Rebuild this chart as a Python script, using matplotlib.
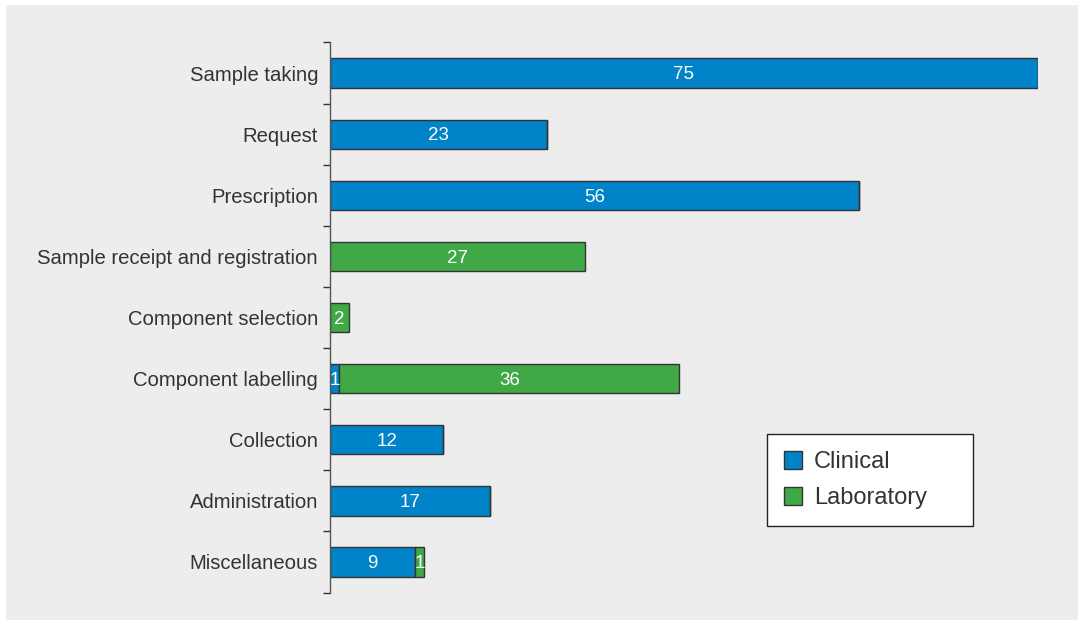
import matplotlib
matplotlib.use("Agg")
import matplotlib.pyplot as plt
from matplotlib.patches import Rectangle, Patch

plt.rcParams['font.family'] = ['Liberation Sans', 'DejaVu Sans']

categories = [
    "Sample taking", "Request", "Prescription",
    "Sample receipt and registration", "Component selection",
    "Component labelling", "Collection", "Administration", "Miscellaneous",
]
clinical = [75, 23, 56, 0, 0, 1, 12, 17, 9]
laboratory = [0, 0, 0, 27, 2, 36, 0, 0, 1]
series_names = ["Clinical", "Laboratory"]

BLUE = "#0083c8"
GREEN = "#41a846"
EDGE = "#333333"
TEXT = "#333333"
BG = "#ededed"

W, H = 1078, 620
fig = plt.figure(figsize=(W / 100, H / 100), dpi=100)
fig.patch.set_facecolor("white")
fig.add_artist(Rectangle((6 / W, 0), 1 - 6 / W, 1 - 5 / H,
                         transform=fig.transFigure, facecolor=BG,
                         edgecolor="none", zorder=-10))

# axes: x from 330 px (value 0) to 1038 px (value 75); y ticks 42..592 px
left, right = 330 / W, 1038 / W
top, bottom = 1 - 42.5 / H, 1 - 592.5 / H
ax = fig.add_axes([left, bottom, right - left, top - bottom])
ax.set_facecolor("none")

n = len(categories)
ypos = list(range(n))
ax.barh(ypos, clinical, height=0.48, color=BLUE, edgecolor=EDGE,
        linewidth=1.0, label=series_names[0])
ax.barh(ypos, laboratory, left=clinical, height=0.48, color=GREEN,
        edgecolor=EDGE, linewidth=1.0, label=series_names[1])

for y, c, l in zip(ypos, clinical, laboratory):
    if c:
        ax.text(c / 2, y + 0.03, str(c), ha="center", va="center",
                color="white", fontsize=13.5)
    if l:
        ax.text(c + l / 2, y + 0.03, str(l), ha="center", va="center",
                color="white", fontsize=13.5)

ax.set_xlim(0, 75)
ax.set_ylim(n - 0.5, -0.5)
ax.set_yticks(ypos)
ax.set_yticklabels(categories, fontsize=14.6, color=TEXT)
ax.set_yticks([i - 0.5 for i in range(n + 1)], minor=True)
ax.tick_params(axis="y", which="major", length=0, pad=8.6)
ax.tick_params(axis="y", which="minor", length=5, width=1, color=EDGE,
               direction="out")
ax.set_xticks([])
for s in ["top", "right", "bottom"]:
    ax.spines[s].set_visible(False)
ax.spines["left"].set_color("#555555")
ax.spines["left"].set_linewidth(1.0)

handles = [Patch(facecolor=BLUE, edgecolor=EDGE, label=series_names[0]),
           Patch(facecolor=GREEN, edgecolor=EDGE, label=series_names[1])]
leg = fig.legend(handles=handles, loc="upper left",
                 bbox_to_anchor=(767 / W, 1 - 526 / H, 206 / W, 92 / H),
                 mode="expand", frameon=True, fancybox=False, fontsize=17,
                 handlelength=0.78, handleheight=0.78, handletextpad=0.5,
                 labelspacing=0.6, borderpad=0.72, borderaxespad=0,
                 labelcolor=TEXT)
leg.get_frame().set_edgecolor("#222222")
leg.get_frame().set_linewidth(1.0)
leg.get_frame().set_facecolor("white")
leg.get_frame().set_alpha(1.0)

fig.savefig("out.png", dpi=100, facecolor=fig.get_facecolor())
